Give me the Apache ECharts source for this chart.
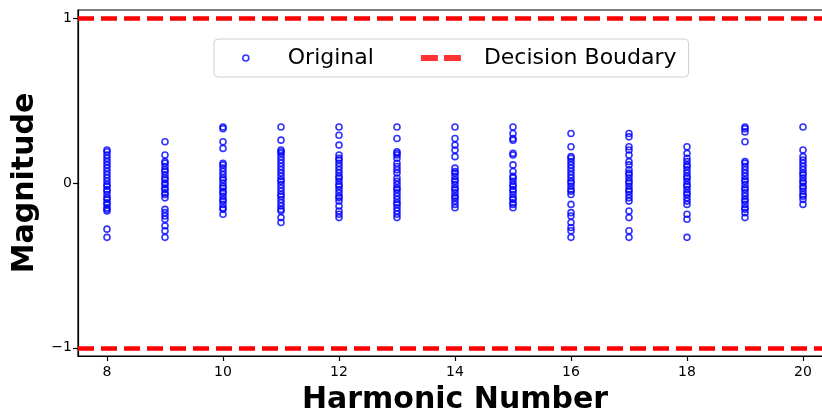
<!DOCTYPE html>
<html>
<head>
<meta charset="utf-8">
<script src="https://cdn.jsdelivr.net/npm/echarts@6/dist/echarts.min.js"></script>
<style>
  html, body { margin: 0; padding: 0; background: #fff; }
  #chart { width: 822px; height: 415px; }
</style>
</head>
<body>
<div id="chart"></div>
<script>
// Harmonic numbers on the x axis
const harmonics = [8, 9, 10, 11, 12, 13, 14, 15, 16, 17, 18, 19, 20];

// Magnitudes, one array per harmonic
const h8  = [0.20, 0.19, 0.17, 0.15, 0.13, 0.11, 0.09, 0.07, 0.05, 0.03, 0.01, -0.01, -0.02, -0.04, -0.05, -0.07, -0.09, -0.10, -0.12, -0.13, -0.15, -0.16, -0.17, -0.28, -0.33];
const h9  = [0.25, 0.17, 0.13, 0.12, 0.10, 0.08, 0.07, 0.05, 0.03, 0.02, 0.00, -0.01, -0.03, -0.04, -0.06, -0.07, -0.09, -0.16, -0.18, -0.20, -0.22, -0.26, -0.29, -0.33];
const h10 = [0.34, 0.33, 0.25, 0.21, 0.12, 0.11, 0.09, 0.07, 0.05, 0.03, 0.02, 0.00, -0.02, -0.03, -0.05, -0.06, -0.08, -0.10, -0.11, -0.13, -0.15, -0.16, -0.19];
const h11 = [0.34, 0.26, 0.20, 0.19, 0.18, 0.16, 0.14, 0.12, 0.10, 0.08, 0.06, 0.04, 0.02, 0.01, -0.01, -0.03, -0.05, -0.07, -0.08, -0.10, -0.12, -0.14, -0.16, -0.17, -0.21, -0.24];
const h12 = [0.34, 0.29, 0.23, 0.17, 0.15, 0.14, 0.12, 0.10, 0.08, 0.06, 0.04, 0.03, 0.01, -0.01, -0.02, -0.04, -0.06, -0.08, -0.09, -0.11, -0.14, -0.17, -0.19, -0.21];
const h13 = [0.34, 0.27, 0.19, 0.18, 0.17, 0.15, 0.12, 0.10, 0.08, 0.06, 0.03, 0.01, -0.01, -0.03, -0.04, -0.06, -0.08, -0.10, -0.12, -0.13, -0.15, -0.17, -0.19, -0.21];
const h14 = [0.34, 0.27, 0.23, 0.20, 0.16, 0.09, 0.07, 0.06, 0.04, 0.02, 0.01, -0.01, -0.03, -0.04, -0.06, -0.08, -0.09, -0.11, -0.13, -0.15];
const h15 = [0.34, 0.30, 0.27, 0.26, 0.18, 0.17, 0.11, 0.07, 0.04, 0.03, 0.01, -0.01, -0.02, -0.04, -0.05, -0.07, -0.09, -0.10, -0.12, -0.13, -0.15];
const h16 = [0.30, 0.22, 0.16, 0.15, 0.13, 0.11, 0.09, 0.07, 0.05, 0.03, 0.01, 0.00, -0.02, -0.04, -0.05, -0.07, -0.13, -0.18, -0.20, -0.24, -0.27, -0.29, -0.33];
const h17 = [0.30, 0.28, 0.22, 0.20, 0.17, 0.13, 0.11, 0.08, 0.06, 0.05, 0.03, 0.01, 0.00, -0.02, -0.04, -0.05, -0.07, -0.09, -0.11, -0.17, -0.21, -0.29, -0.33];
const h18 = [0.22, 0.18, 0.15, 0.13, 0.11, 0.10, 0.08, 0.06, 0.04, 0.03, 0.01, -0.01, -0.02, -0.04, -0.06, -0.07, -0.09, -0.11, -0.13, -0.19, -0.22, -0.33];
const h19 = [0.34, 0.33, 0.31, 0.25, 0.13, 0.12, 0.10, 0.08, 0.06, 0.04, 0.02, 0.01, -0.01, -0.03, -0.04, -0.06, -0.08, -0.10, -0.11, -0.13, -0.15, -0.16, -0.18, -0.21];
const h20 = [0.34, 0.20, 0.16, 0.14, 0.12, 0.10, 0.08, 0.06, 0.05, 0.03, 0.01, 0.00, -0.02, -0.03, -0.05, -0.07, -0.08, -0.10, -0.13];

const magnitudes = [h8, h9, h10, h11, h12, h13, h14, h15, h16, h17, h18, h19, h20];

// Decision boundary levels
const boundaries = [1, -1];

// Tick labels
const xTicks = [8, 10, 12, 14, 16, 18, 20];
const yTicks = [-1, 0, 1];

const points = [];
harmonics.forEach((h, i) => magnitudes[i].forEach(v => points.push([h, v])));

const FONT = 'DejaVu Sans';
const fmt = v => (v < 0 ? '\u2212' + Math.abs(v) : String(v));

// legend icons: 40x6 boxes (extra moveTo points fix the bounding box)
const circleIcon = 'path://M0,0 M40,6 M17,3 A3,3 0 1,1 23,3 A3,3 0 1,1 17,3 Z';
const dashIcon = 'path://M0,0H17V6H0Z M23,0H40V6H23Z';

const chart = echarts.init(document.getElementById('chart'), null, { renderer: 'canvas' });
chart.setOption({
  animation: false,
  backgroundColor: '#ffffff',
  grid: {
    left: 78, top: 10, width: 754, height: 346,
    outerBoundsMode: 'none', containLabel: false,
    show: true, borderColor: '#000', borderWidth: 1.2, backgroundColor: 'transparent'
  },
  legend: {
    left: 214, top: 39,
    padding: [8, 12, 8, 11],
    itemWidth: 40, itemHeight: 6, itemGap: 47,
    borderColor: '#d0d0d0', borderWidth: 1, borderRadius: 4,
    backgroundColor: '#fff',
    textStyle: { fontFamily: FONT, fontSize: 22, color: '#000' },
    data: [
      { name: 'Original', icon: circleIcon,
        itemStyle: { color: 'rgba(0,0,0,0)', borderColor: '#0000ff', borderWidth: 1.6 },
        textStyle: { padding: [0, 0, 0, 17] } },
      { name: 'Decision Boudary', icon: dashIcon,
        itemStyle: { color: '#ff0000', borderWidth: 0 },
        textStyle: { padding: [0, 0, 0, 18] } }
    ]
  },
  xAxis: {
    type: 'value', min: 7.5, max: 20.5,
    name: 'Harmonic Number', nameLocation: 'middle', nameGap: 29,
    nameTextStyle: { fontFamily: FONT, fontSize: 30, fontWeight: 'bold', color: '#000' },
    axisLine: { show: true, onZero: false, lineStyle: { color: '#000', width: 1.2 } },
    axisTick: { show: true, length: 5, customValues: xTicks, lineStyle: { color: '#000', width: 1.2 } },
    axisLabel: { customValues: xTicks, fontFamily: FONT, fontSize: 14, color: '#000', margin: 9, formatter: fmt },
    splitLine: { show: false }
  },
  yAxis: {
    type: 'value', min: -1.05, max: 1.05,
    name: 'Magnitude', nameLocation: 'middle', nameGap: 28,
    nameTextStyle: { fontFamily: FONT, fontSize: 30, fontWeight: 'bold', color: '#000' },
    axisLine: { show: true, onZero: false, lineStyle: { color: '#000', width: 1.2 } },
    axisTick: { show: true, length: 5, customValues: yTicks, lineStyle: { color: '#000', width: 1.2 } },
    axisLabel: { customValues: yTicks, fontFamily: FONT, fontSize: 14, color: '#000', margin: 6, formatter: fmt },
    splitLine: { show: false }
  },
  series: [
    {
      name: 'Original', type: 'scatter', data: points,
      symbol: 'circle', symbolSize: 6,
      itemStyle: { color: 'rgba(0,0,0,0)', borderColor: '#0000ff', borderWidth: 1.6 },
      emphasis: { disabled: true }, z: 3
    },
    {
      name: 'Decision Boudary', type: 'scatter', data: [],
      itemStyle: { color: '#ff0000' },
      markLine: {
        silent: true, symbol: ['none', 'none'],
        label: { show: false },
        lineStyle: { color: '#ff0000', width: 4.5, type: [16, 7], opacity: 1 },
        emphasis: { disabled: true },
        data: boundaries.map(b => ({ yAxis: b }))
      },
      z: 4
    }
  ]
});
</script>
</body>
</html>
